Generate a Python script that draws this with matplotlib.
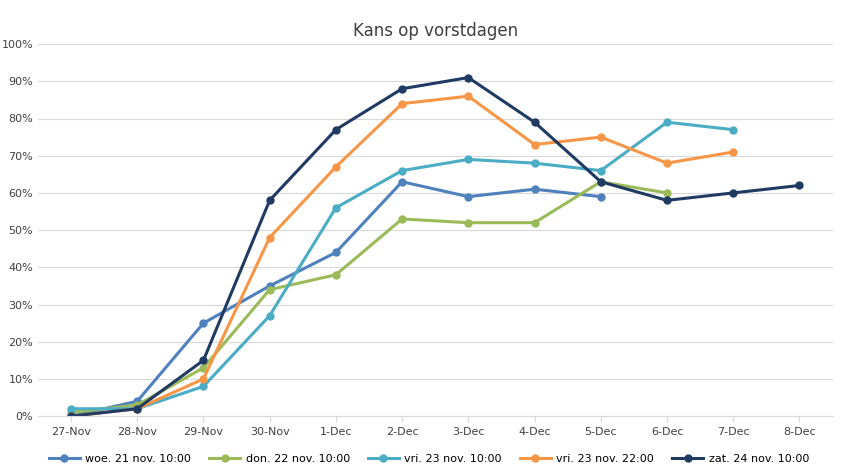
import numpy as np
import matplotlib.pyplot as plt
from matplotlib.ticker import PercentFormatter

days = ['27-Nov', '28-Nov', '29-Nov', '30-Nov', '1-Dec', '2-Dec', '3-Dec',
        '4-Dec', '5-Dec', '6-Dec', '7-Dec', '8-Dec']

woe_21 = [0, 4, 25, 35, 44, 63, 59, 61, 59]
don_22 = [1, 3, 13, 34, 38, 53, 52, 52, 63, 60]
vri_23_10 = [2, 2, 8, 27, 56, 66, 69, 68, 66, 79, 77]
vri_23_22 = [0, 2, 10, 48, 67, 84, 86, 73, 75, 68, 71]
zat_24 = [0, 2, 15, 58, 77, 88, 91, 79, 63, 58, 60, 62]

series = [
    ('woe. 21 nov. 10:00', woe_21, '#4f81bd'),
    ('don. 22 nov. 10:00', don_22, '#9bbb59'),
    ('vri. 23 nov. 10:00', vri_23_10, '#4bacc6'),
    ('vri. 23 nov. 22:00', vri_23_22, '#f79646'),
    ('zat. 24 nov. 10:00', zat_24, '#1f3b63'),
]

fig, ax = plt.subplots(figsize=(8.41, 4.74), dpi=100)
fig.subplots_adjust(left=0.045, right=0.99, top=0.907, bottom=0.122)

x = np.arange(len(days))
for label, vals, color in series:
    ax.plot(x[:len(vals)], vals, color=color, lw=2.2, marker='o', ms=5, label=label)

ax.set_xlim(-0.5, len(days) - 0.5)
ax.set_ylim(0, 100)
ax.set_yticks(range(0, 101, 10))
ax.yaxis.set_major_formatter(PercentFormatter(decimals=0))
ax.set_xticks(x)
ax.set_xticklabels(days)
ax.tick_params(labelsize=8, colors='#404040', length=0)
ax.tick_params(axis='x', length=4, color='#d9d9d9')
ax.grid(axis='y', color='#d9d9d9', lw=0.8)
ax.set_axisbelow(True)
for s in ['top', 'right', 'left']:
    ax.spines[s].set_visible(False)
ax.spines['bottom'].set_color('#d9d9d9')

ax.set_title('Kans op vorstdagen', fontsize=12, color='#404040')
fig.legend(loc='lower center', ncol=5, frameon=False, fontsize=8,
           bbox_to_anchor=(0.51, 0.0), handlelength=2.8, columnspacing=1.6,
           handletextpad=0.5)

fig.savefig('out.png')
